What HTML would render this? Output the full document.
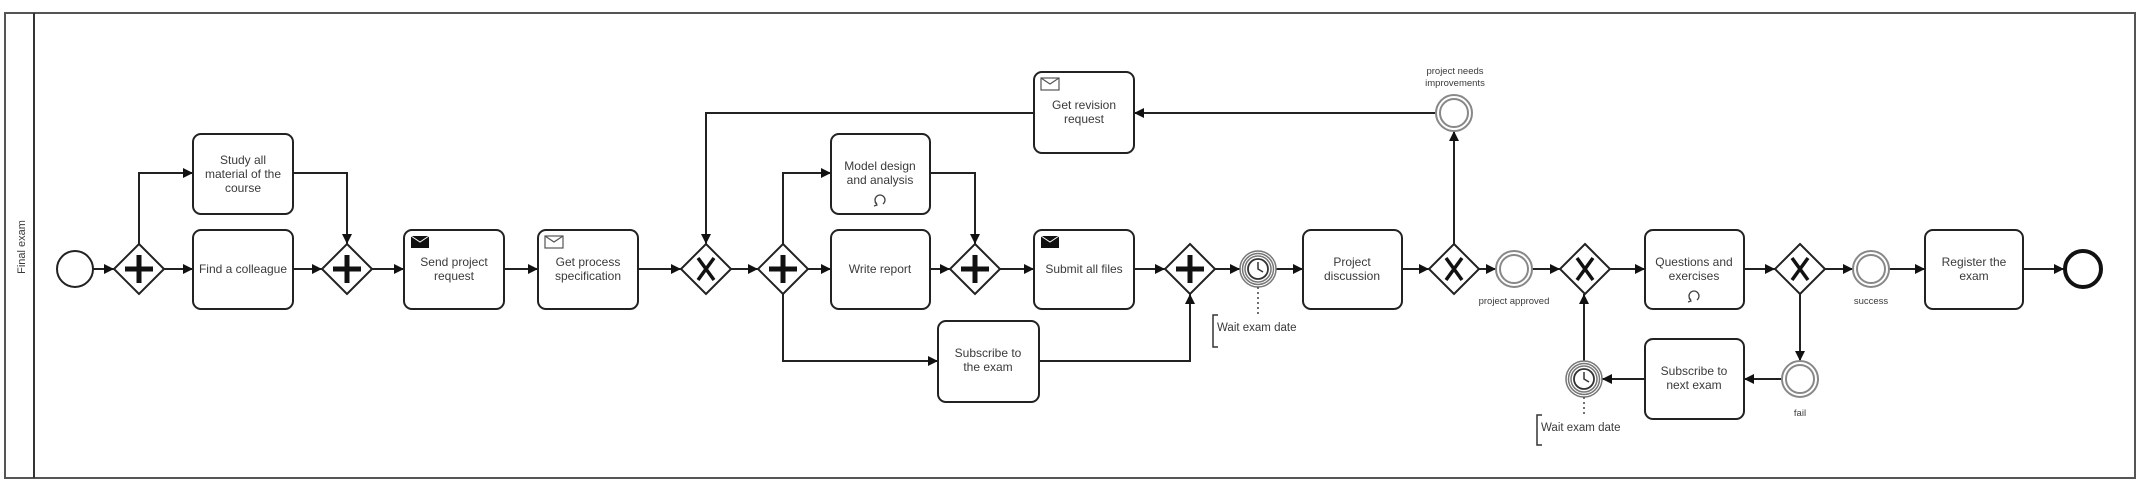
<!DOCTYPE html>
<html><head><meta charset="utf-8"><style>
html,body{margin:0;padding:0;background:#fff;width:2146px;height:492px;overflow:hidden}
svg text{font-family:"Liberation Sans",sans-serif;fill:#3a3a3a}
</style></head><body>
<svg width="2146" height="492" viewBox="0 0 2146 492" xmlns="http://www.w3.org/2000/svg">
<defs>
<marker id="a" viewBox="0 0 10 10" refX="10" refY="5" markerWidth="10" markerHeight="10" markerUnits="userSpaceOnUse" orient="auto"><path d="M0,0 L10,5 L0,10 z" fill="#111"/></marker>
<g id="gp"><path d="M0,-25 L25,0 L0,25 L-25,0 z" fill="#fff" stroke="#222" stroke-width="2"/><path d="M0,-14 V14 M-14,0 H14" stroke="#111" stroke-width="5"/></g>
<g id="gx"><path d="M0,-25 L25,0 L0,25 L-25,0 z" fill="#fff" stroke="#222" stroke-width="2"/><path d="M-8,-11 L8,11 M8,-11 L-8,11" stroke="#111" stroke-width="3.5"/></g>
<g id="ie"><circle r="18" fill="#fff" stroke="#888" stroke-width="2"/><circle r="14" fill="none" stroke="#888" stroke-width="2"/></g>
<g id="tm"><circle r="18" fill="#fff" stroke="#777" stroke-width="1.5"/><circle r="15.5" fill="none" stroke="#777" stroke-width="1.5"/><circle r="13" fill="none" stroke="#777" stroke-width="1.5"/><circle r="10" fill="#fff" stroke="#333" stroke-width="1.8"/><path d="M0,-7 V0 L5,3" stroke="#333" stroke-width="1.5" fill="none"/></g>
<g id="ef"><rect x="0" y="0" width="18" height="12" fill="#111"/><path d="M0,0 L9,6 L18,0" stroke="#fff" stroke-width="1" fill="none"/></g>
<g id="eo"><rect x="0" y="0" width="18" height="12" fill="#fff" stroke="#555" stroke-width="1.2"/><path d="M0,0 L9,6 L18,0" stroke="#555" stroke-width="1.2" fill="none"/></g>
<g id="lp"><path d="M-3,4 A5,5 0 1 1 3,4" fill="none" stroke="#444" stroke-width="1.3"/><path d="M-5,2 L-3,5 L-6,6" fill="none" stroke="#444" stroke-width="1.2"/></g>
</defs>
<rect x="5" y="13" width="2130" height="465" fill="#fff" stroke="#555" stroke-width="2"/>
<line x1="34" y1="13" x2="34" y2="478" stroke="#333" stroke-width="2"/>
<text x="25" y="247" font-size="11" text-anchor="middle" transform="rotate(-90 25 247)">Final exam</text>

<g stroke="#222" stroke-width="2" fill="none" marker-end="url(#a)">
<path d="M93,269 H114"/>
<path d="M139,244 V173 H193"/>
<path d="M164,269 H193"/>
<path d="M293,173 H347 V244"/>
<path d="M293,269 H322"/>
<path d="M372,269 H404"/>
<path d="M504,269 H538"/>
<path d="M638,269 H681"/>
<path d="M731,269 H758"/>
<path d="M783,244 V173 H831"/>
<path d="M808,269 H831"/>
<path d="M783,294 V361 H938"/>
<path d="M930,173 H975 V244"/>
<path d="M930,269 H950"/>
<path d="M1000,269 H1034"/>
<path d="M1134,269 H1165"/>
<path d="M1039,361 H1190 V294"/>
<path d="M1215,269 H1240"/>
<path d="M1276,269 H1303"/>
<path d="M1402,269 H1429"/>
<path d="M1454,244 V131"/>
<path d="M1437,113 H1134"/>
<path d="M1034,113 H706 V244"/>
<path d="M1479,269 H1496"/>
<path d="M1532,269 H1560"/>
<path d="M1610,269 H1645"/>
<path d="M1744,269 H1775"/>
<path d="M1825,269 H1853"/>
<path d="M1889,269 H1925"/>
<path d="M2023,269 H2064"/>
<path d="M1800,294 V361"/>
<path d="M1782,379 H1744"/>
<path d="M1645,379 H1602"/>
<path d="M1584,361 V294"/>
</g>

<circle cx="75" cy="269" r="18" fill="#fff" stroke="#222" stroke-width="2"/>
<circle cx="2083" cy="269" r="18" fill="#fff" stroke="#111" stroke-width="4"/>

<use href="#gp" x="139" y="269"/><use href="#gp" x="347" y="269"/>
<use href="#gx" x="706" y="269"/><use href="#gp" x="783" y="269"/>
<use href="#gp" x="975" y="269"/><use href="#gp" x="1190" y="269"/>
<use href="#gx" x="1454" y="269"/><use href="#gx" x="1585" y="269"/><use href="#gx" x="1800" y="269"/>

<g fill="#fff" stroke="#222" stroke-width="2">
<rect x="193" y="134" width="100" height="80" rx="8"/>
<rect x="193" y="230" width="100" height="79" rx="8"/>
<rect x="404" y="230" width="100" height="79" rx="8"/>
<rect x="538" y="230" width="100" height="79" rx="8"/>
<rect x="831" y="134" width="99" height="80" rx="8"/>
<rect x="831" y="230" width="99" height="79" rx="8"/>
<rect x="1034" y="72" width="100" height="81" rx="8"/>
<rect x="1034" y="230" width="100" height="79" rx="8"/>
<rect x="938" y="321" width="101" height="81" rx="8"/>
<rect x="1303" y="230" width="99" height="79" rx="8"/>
<rect x="1645" y="230" width="99" height="79" rx="8"/>
<rect x="1925" y="230" width="98" height="79" rx="8"/>
<rect x="1645" y="339" width="99" height="80" rx="8"/>
</g>
<use href="#ef" x="411" y="236"/><use href="#eo" x="545" y="236"/>
<use href="#eo" x="1041" y="78"/><use href="#ef" x="1041" y="236"/>
<use href="#lp" x="880" y="200"/><use href="#lp" x="1694" y="296"/>

<use href="#ie" x="1454" y="113"/><use href="#ie" x="1514" y="269"/>
<use href="#ie" x="1871" y="269"/><use href="#ie" x="1800" y="379"/>
<use href="#tm" x="1258" y="269"/><use href="#tm" x="1584" y="379"/>

<g stroke="#444" stroke-width="1.5" stroke-dasharray="2,3" fill="none">
<path d="M1258,287 V315"/><path d="M1584,397 V415"/>
</g>
<g stroke="#333" stroke-width="1.5" fill="none">
<path d="M1218,315 H1213 V347 H1218"/><path d="M1542,415 H1537 V445 H1542"/>
</g>

<g font-size="12" text-anchor="middle">
<text x="243" y="164">Study all</text><text x="243" y="178">material of the</text><text x="243" y="192">course</text>
<text x="243" y="273">Find a colleague</text>
<text x="454" y="266">Send project</text><text x="454" y="280">request</text>
<text x="588" y="266">Get process</text><text x="588" y="280">specification</text>
<text x="880" y="170">Model design</text><text x="880" y="184">and analysis</text>
<text x="880" y="273">Write report</text>
<text x="1084" y="109">Get revision</text><text x="1084" y="123">request</text>
<text x="1084" y="273">Submit all files</text>
<text x="988" y="357">Subscribe to</text><text x="988" y="371">the exam</text>
<text x="1352" y="266">Project</text><text x="1352" y="280">discussion</text>
<text x="1694" y="266">Questions and</text><text x="1694" y="280">exercises</text>
<text x="1974" y="266">Register the</text><text x="1974" y="280">exam</text>
<text x="1694" y="375">Subscribe to</text><text x="1694" y="389">next exam</text>
</g>
<g font-size="9.5" text-anchor="middle">
<text x="1455" y="74">project needs</text><text x="1455" y="86">improvements</text>
<text x="1514" y="304">project approved</text>
<text x="1871" y="304">success</text>
<text x="1800" y="416">fail</text>
</g>
<g font-size="11.5">
<text x="1217" y="331">Wait exam date</text>
<text x="1541" y="431">Wait exam date</text>
</g>
</svg>
</body></html>
